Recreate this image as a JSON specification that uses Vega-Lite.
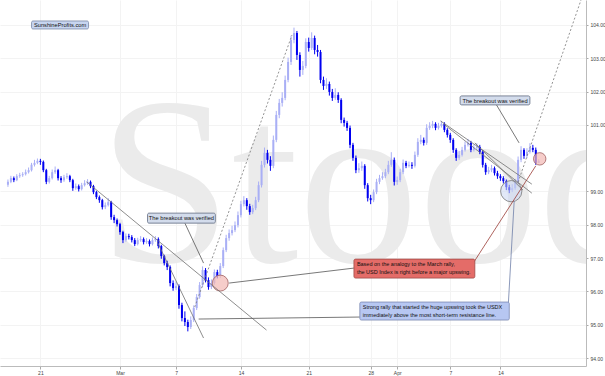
{
"$schema": "https://vega.github.io/schema/vega-lite/v6.json",
"width": 586, "height": 366,
"autosize": {"type": "none"},
"padding": {"left": 0, "top": 0, "right": 19, "bottom": 10},
"background": "white",
"config": {"view": {"stroke": null}, "font": "Liberation Sans"},
"datasets": {
"mark": [{"x": 30.67, "y": 96.88, "w": "Stooq"}],
"candles": [
{"t":0,"o":99.20,"h":99.36,"l":99.14,"c":99.29},
{"t":1,"o":99.29,"h":99.47,"l":99.25,"c":99.40},
{"t":2,"o":99.40,"h":99.45,"l":99.28,"c":99.34},
{"t":3,"o":99.34,"h":99.52,"l":99.31,"c":99.46},
{"t":4,"o":99.46,"h":99.56,"l":99.41,"c":99.49},
{"t":5,"o":99.49,"h":99.58,"l":99.44,"c":99.52},
{"t":6,"o":99.52,"h":99.66,"l":99.48,"c":99.58},
{"t":7,"o":99.58,"h":99.72,"l":99.54,"c":99.64},
{"t":8,"o":99.64,"h":99.86,"l":99.60,"c":99.80},
{"t":9,"o":99.80,"h":99.95,"l":99.75,"c":99.86},
{"t":10,"o":99.86,"h":99.99,"l":99.82,"c":99.92},
{"t":11,"o":99.92,"h":99.98,"l":99.80,"c":99.89},
{"t":12,"o":99.89,"h":99.93,"l":99.58,"c":99.64},
{"t":13,"o":99.64,"h":99.68,"l":99.22,"c":99.29},
{"t":14,"o":99.29,"h":99.47,"l":99.24,"c":99.40},
{"t":15,"o":99.40,"h":99.66,"l":99.36,"c":99.58},
{"t":16,"o":99.58,"h":99.75,"l":99.53,"c":99.64},
{"t":17,"o":99.64,"h":99.68,"l":99.33,"c":99.40},
{"t":18,"o":99.40,"h":99.46,"l":99.26,"c":99.34},
{"t":19,"o":99.34,"h":99.50,"l":99.29,"c":99.43},
{"t":20,"o":99.43,"h":99.55,"l":99.38,"c":99.46},
{"t":21,"o":99.46,"h":99.50,"l":99.28,"c":99.34},
{"t":22,"o":99.34,"h":99.38,"l":99.02,"c":99.10},
{"t":23,"o":99.10,"h":99.24,"l":99.05,"c":99.16},
{"t":24,"o":99.16,"h":99.21,"l":99.00,"c":99.07},
{"t":25,"o":99.07,"h":99.26,"l":99.03,"c":99.19},
{"t":26,"o":99.19,"h":99.34,"l":99.15,"c":99.25},
{"t":27,"o":99.25,"h":99.37,"l":99.20,"c":99.29},
{"t":28,"o":99.29,"h":99.33,"l":99.10,"c":99.16},
{"t":29,"o":99.16,"h":99.20,"l":98.92,"c":98.98},
{"t":30,"o":98.98,"h":99.02,"l":98.77,"c":98.83},
{"t":31,"o":98.83,"h":98.88,"l":98.66,"c":98.74},
{"t":32,"o":98.74,"h":98.78,"l":98.46,"c":98.53},
{"t":33,"o":98.53,"h":98.67,"l":98.47,"c":98.59},
{"t":34,"o":98.59,"h":98.80,"l":98.55,"c":98.68},
{"t":35,"o":98.68,"h":98.72,"l":98.15,"c":98.23},
{"t":36,"o":98.23,"h":98.30,"l":98.05,"c":98.14},
{"t":37,"o":98.14,"h":98.19,"l":97.95,"c":98.02},
{"t":38,"o":98.02,"h":98.06,"l":97.70,"c":97.78},
{"t":39,"o":97.78,"h":97.82,"l":97.45,"c":97.54},
{"t":40,"o":97.54,"h":97.74,"l":97.49,"c":97.66},
{"t":41,"o":97.66,"h":97.73,"l":97.56,"c":97.63},
{"t":42,"o":97.63,"h":97.69,"l":97.47,"c":97.54},
{"t":43,"o":97.54,"h":97.60,"l":97.36,"c":97.42},
{"t":44,"o":97.42,"h":97.61,"l":97.38,"c":97.54},
{"t":45,"o":97.54,"h":97.66,"l":97.49,"c":97.57},
{"t":46,"o":97.57,"h":97.62,"l":97.41,"c":97.48},
{"t":47,"o":97.48,"h":97.60,"l":97.43,"c":97.51},
{"t":48,"o":97.51,"h":97.56,"l":97.35,"c":97.42},
{"t":49,"o":97.42,"h":97.62,"l":97.38,"c":97.54},
{"t":50,"o":97.54,"h":97.66,"l":97.49,"c":97.57},
{"t":51,"o":97.57,"h":97.62,"l":97.29,"c":97.36},
{"t":52,"o":97.36,"h":97.40,"l":96.98,"c":97.06},
{"t":53,"o":97.06,"h":97.10,"l":96.78,"c":96.85},
{"t":54,"o":96.85,"h":96.92,"l":96.64,"c":96.73},
{"t":55,"o":96.73,"h":96.78,"l":96.15,"c":96.25},
{"t":56,"o":96.25,"h":96.33,"l":96.02,"c":96.10},
{"t":57,"o":96.10,"h":96.30,"l":96.04,"c":96.16},
{"t":58,"o":96.16,"h":96.21,"l":95.48,"c":95.59},
{"t":59,"o":95.59,"h":95.66,"l":95.10,"c":95.20},
{"t":60,"o":95.20,"h":95.40,"l":94.96,"c":95.08},
{"t":61,"o":95.08,"h":95.15,"l":94.80,"c":94.93},
{"t":62,"o":94.93,"h":95.25,"l":94.87,"c":95.14},
{"t":63,"o":95.14,"h":95.58,"l":95.08,"c":95.50},
{"t":64,"o":95.50,"h":95.92,"l":95.44,"c":95.83},
{"t":65,"o":95.83,"h":96.28,"l":95.78,"c":96.19},
{"t":66,"o":96.19,"h":96.75,"l":96.12,"c":96.64},
{"t":67,"o":96.64,"h":96.70,"l":96.27,"c":96.34},
{"t":68,"o":96.34,"h":96.42,"l":96.05,"c":96.13},
{"t":69,"o":96.13,"h":96.36,"l":96.07,"c":96.25},
{"t":70,"o":96.25,"h":96.66,"l":96.20,"c":96.58},
{"t":71,"o":96.58,"h":96.65,"l":96.39,"c":96.46},
{"t":72,"o":96.46,"h":96.85,"l":96.40,"c":96.76},
{"t":73,"o":96.76,"h":97.32,"l":96.70,"c":97.24},
{"t":74,"o":97.24,"h":97.70,"l":97.18,"c":97.60},
{"t":75,"o":97.60,"h":97.86,"l":97.52,"c":97.75},
{"t":76,"o":97.75,"h":97.97,"l":97.68,"c":97.84},
{"t":77,"o":97.84,"h":98.10,"l":97.78,"c":97.99},
{"t":78,"o":97.99,"h":98.40,"l":97.92,"c":98.29},
{"t":79,"o":98.29,"h":98.72,"l":98.22,"c":98.62},
{"t":80,"o":98.62,"h":98.86,"l":98.55,"c":98.74},
{"t":81,"o":98.74,"h":98.80,"l":98.45,"c":98.56},
{"t":82,"o":98.56,"h":98.63,"l":98.30,"c":98.38},
{"t":83,"o":98.38,"h":98.60,"l":98.32,"c":98.50},
{"t":84,"o":98.50,"h":98.84,"l":98.44,"c":98.74},
{"t":85,"o":98.74,"h":99.30,"l":98.68,"c":99.19},
{"t":86,"o":99.19,"h":99.92,"l":99.12,"c":99.80},
{"t":87,"o":99.80,"h":100.32,"l":99.72,"c":100.16},
{"t":88,"o":100.16,"h":100.25,"l":99.84,"c":99.95},
{"t":89,"o":99.95,"h":100.06,"l":99.62,"c":99.77},
{"t":90,"o":99.77,"h":100.68,"l":99.70,"c":100.55},
{"t":91,"o":100.55,"h":101.42,"l":100.48,"c":101.30},
{"t":92,"o":101.30,"h":101.78,"l":101.20,"c":101.66},
{"t":93,"o":101.66,"h":101.98,"l":101.55,"c":101.81},
{"t":94,"o":101.81,"h":102.48,"l":101.74,"c":102.35},
{"t":95,"o":102.35,"h":103.02,"l":102.28,"c":102.89},
{"t":96,"o":102.89,"h":103.68,"l":102.80,"c":103.55},
{"t":97,"o":103.55,"h":103.92,"l":103.45,"c":103.76},
{"t":98,"o":103.76,"h":103.82,"l":102.95,"c":103.10},
{"t":99,"o":103.10,"h":103.18,"l":102.45,"c":102.65},
{"t":100,"o":102.65,"h":102.92,"l":102.50,"c":102.77},
{"t":101,"o":102.77,"h":103.60,"l":102.70,"c":103.49},
{"t":102,"o":103.49,"h":103.62,"l":103.20,"c":103.31},
{"t":103,"o":103.31,"h":103.78,"l":103.25,"c":103.61},
{"t":104,"o":103.61,"h":103.68,"l":103.12,"c":103.25},
{"t":105,"o":103.25,"h":103.40,"l":103.05,"c":103.19},
{"t":106,"o":103.19,"h":103.25,"l":102.25,"c":102.35},
{"t":107,"o":102.35,"h":102.45,"l":102.05,"c":102.17},
{"t":108,"o":102.17,"h":102.40,"l":102.08,"c":102.23},
{"t":109,"o":102.23,"h":102.30,"l":101.88,"c":101.99},
{"t":110,"o":101.99,"h":102.08,"l":101.72,"c":101.81},
{"t":111,"o":101.81,"h":102.10,"l":101.75,"c":101.90},
{"t":112,"o":101.90,"h":101.98,"l":101.66,"c":101.75},
{"t":113,"o":101.75,"h":101.80,"l":101.05,"c":101.15},
{"t":114,"o":101.15,"h":101.22,"l":100.95,"c":101.06},
{"t":115,"o":101.06,"h":101.12,"l":100.82,"c":100.91},
{"t":116,"o":100.91,"h":100.98,"l":100.30,"c":100.40},
{"t":117,"o":100.40,"h":100.46,"l":99.92,"c":100.01},
{"t":118,"o":100.01,"h":100.08,"l":99.55,"c":99.64},
{"t":119,"o":99.64,"h":99.85,"l":99.56,"c":99.70},
{"t":120,"o":99.70,"h":99.90,"l":99.62,"c":99.77},
{"t":121,"o":99.77,"h":99.82,"l":99.08,"c":99.19},
{"t":122,"o":99.19,"h":99.25,"l":98.70,"c":98.80},
{"t":123,"o":98.80,"h":98.90,"l":98.62,"c":98.74},
{"t":124,"o":98.74,"h":99.06,"l":98.68,"c":98.98},
{"t":125,"o":98.98,"h":99.38,"l":98.92,"c":99.29},
{"t":126,"o":99.29,"h":99.50,"l":99.22,"c":99.40},
{"t":127,"o":99.40,"h":99.58,"l":99.35,"c":99.46},
{"t":128,"o":99.46,"h":99.68,"l":99.40,"c":99.58},
{"t":129,"o":99.58,"h":99.92,"l":99.52,"c":99.80},
{"t":130,"o":99.80,"h":100.18,"l":99.74,"c":99.95},
{"t":131,"o":99.95,"h":100.02,"l":99.18,"c":99.29},
{"t":132,"o":99.29,"h":99.45,"l":99.20,"c":99.34},
{"t":133,"o":99.34,"h":99.68,"l":99.28,"c":99.58},
{"t":134,"o":99.58,"h":99.96,"l":99.52,"c":99.86},
{"t":135,"o":99.86,"h":99.92,"l":99.70,"c":99.77},
{"t":136,"o":99.77,"h":99.90,"l":99.72,"c":99.80},
{"t":137,"o":99.80,"h":99.88,"l":99.68,"c":99.77},
{"t":138,"o":99.77,"h":100.20,"l":99.72,"c":100.10},
{"t":139,"o":100.10,"h":100.60,"l":100.04,"c":100.49},
{"t":140,"o":100.49,"h":100.70,"l":100.42,"c":100.55},
{"t":141,"o":100.55,"h":100.62,"l":100.38,"c":100.46},
{"t":142,"o":100.46,"h":101.02,"l":100.40,"c":100.91},
{"t":143,"o":100.91,"h":101.08,"l":100.85,"c":100.97},
{"t":144,"o":100.97,"h":101.12,"l":100.90,"c":101.03},
{"t":145,"o":101.03,"h":101.08,"l":100.84,"c":100.91},
{"t":146,"o":100.91,"h":101.06,"l":100.86,"c":100.97},
{"t":147,"o":100.97,"h":101.12,"l":100.92,"c":101.03},
{"t":148,"o":101.03,"h":101.08,"l":100.78,"c":100.85},
{"t":149,"o":100.85,"h":100.90,"l":100.62,"c":100.70},
{"t":150,"o":100.70,"h":100.76,"l":100.46,"c":100.55},
{"t":151,"o":100.55,"h":100.60,"l":100.16,"c":100.25},
{"t":152,"o":100.25,"h":100.30,"l":99.92,"c":100.01},
{"t":153,"o":100.01,"h":100.22,"l":99.95,"c":100.10},
{"t":154,"o":100.10,"h":100.34,"l":100.05,"c":100.25},
{"t":155,"o":100.25,"h":100.50,"l":100.20,"c":100.40},
{"t":156,"o":100.40,"h":100.58,"l":100.35,"c":100.46},
{"t":157,"o":100.46,"h":100.52,"l":100.18,"c":100.25},
{"t":158,"o":100.25,"h":100.42,"l":100.20,"c":100.31},
{"t":159,"o":100.31,"h":100.45,"l":100.25,"c":100.34},
{"t":160,"o":100.34,"h":100.40,"l":100.12,"c":100.19},
{"t":161,"o":100.19,"h":100.24,"l":99.72,"c":99.80},
{"t":162,"o":99.80,"h":99.86,"l":99.50,"c":99.58},
{"t":163,"o":99.58,"h":99.74,"l":99.52,"c":99.64},
{"t":164,"o":99.64,"h":99.80,"l":99.58,"c":99.70},
{"t":165,"o":99.70,"h":99.75,"l":99.48,"c":99.55},
{"t":166,"o":99.55,"h":99.62,"l":99.38,"c":99.46},
{"t":167,"o":99.46,"h":99.52,"l":99.32,"c":99.40},
{"t":168,"o":99.40,"h":99.46,"l":99.24,"c":99.31},
{"t":169,"o":99.31,"h":99.36,"l":99.04,"c":99.13},
{"t":170,"o":99.13,"h":99.20,"l":98.95,"c":99.04},
{"t":171,"o":99.04,"h":99.22,"l":98.98,"c":99.10},
{"t":172,"o":99.10,"h":99.38,"l":99.05,"c":99.29},
{"t":173,"o":99.29,"h":100.05,"l":99.24,"c":99.95},
{"t":174,"o":99.95,"h":100.36,"l":99.88,"c":100.25},
{"t":175,"o":100.25,"h":100.30,"l":99.98,"c":100.07},
{"t":176,"o":100.07,"h":100.30,"l":100.00,"c":100.19},
{"t":177,"o":100.19,"h":100.45,"l":100.14,"c":100.31},
{"t":178,"o":100.31,"h":100.40,"l":100.18,"c":100.25},
{"t":179,"o":100.25,"h":100.32,"l":99.80,"c":99.86},
{"t":180,"o":99.862,"h":99.969,"l":99.862,"c":99.908}
],
"lines": [
{"x":26.67,"y":99.29,"x2":87.67,"y2":94.84,"kind":"trend"},
{"x":50.67,"y":97.48,"x2":66.33,"y2":94.60,"kind":"trend"},
{"x":146.67,"y":101.12,"x2":177.67,"y2":99.22,"kind":"trend"},
{"x":147.67,"y":101.03,"x2":177.67,"y2":98.95,"kind":"trend"},
{"x":158.33,"y":100.46,"x2":174.67,"y2":99.04,"kind":"trend"},
{"x":60,"y":98.05,"x2":66.33,"y2":96.85,"kind":"pointer"},
{"x":165.67,"y":101.60,"x2":173.33,"y2":100.46,"kind":"pointer"},
{"x":75,"y":96.25,"x2":117.33,"y2":96.70,"kind":"pointer"},
{"x":64.67,"y":95.17,"x2":119.33,"y2":95.23,"kind":"pointer"},
{"x":169.67,"y":95.59,"x2":171.67,"y2":98.71,"kind":"blueptr"},
{"x":158,"y":96.88,"x2":179,"y2":99.77,"kind":"redptr"}
],
"dotted": [
{"x":63.33,"y":95.53,"x2":96.33,"y2":103.70},
{"x":173,"y":99.28,"x2":194.33,"y2":104.75}
],
"boxes": [
{"x":8,"x2":27.33,"y":104.12,"y2":103.88,"kind":"site"},
{"x":47.33,"x2":70.33,"y":98.35,"y2":98.05,"kind":"note"},
{"x":153.33,"x2":177,"y":101.87,"y2":101.60,"kind":"note"},
{"x":117.33,"x2":158.33,"y":96.97,"y2":96.40,"kind":"red"},
{"x":119.33,"x2":170,"y":95.68,"y2":95.14,"kind":"blue"}
],
"ctext": [
{"x":17.67,"y":104.0,"txt":"SunshineProfits.com"},
{"x":58.83,"y":98.2,"txt":"The breakout was verified"},
{"x":165.17,"y":101.73,"txt":"The breakout was verified"}
],
"ltext": [
{"x":118.33,"y":96.82,"txt":"Based on the analogy to the March rally,"},
{"x":118.33,"y":96.58,"txt":"the USD Index is right before a major upswing."},
{"x":120.33,"y":95.53,"txt":"Strong rally that started the huge upswing took the USDX"},
{"x":120.33,"y":95.29,"txt":"immediately above the most short-term resistance line."}
],
"bluecirc": [{"x":170.67,"y":99.01}],
"pinkcirc": [{"x":72,"y":96.25,"r":"big"},{"x":180.33,"y":99.98,"r":"small"}]
},
"layer": [
{
"data": {"name": "mark"},
"mark": {"type": "text", "font": "Liberation Serif", "fontSize": 240, "fill": "#ebebeb", "align": "left", "baseline": "alphabetic", "clip": true},
"encoding": {"x": {"field": "x", "type": "quantitative"}, "y": {"field": "y", "type": "quantitative"}, "text": {"field": "w"}}
},
{
"data": {"name": "candles"},
"mark": {"type": "rule", "strokeWidth": 1},
"encoding": {
"x": {"field": "t", "type": "quantitative", "scale": {"domain": [-1, 194.33], "nice": false, "zero": false},
"axis": {"title": null, "orient": "bottom", "values": [11, 38, 57, 79, 102, 123, 132, 150, 167],
"labelExpr": "datum.value==11?'21':datum.value==38?'Mar':datum.value==57?'7':datum.value==79?'14':datum.value==102?'21':datum.value==123?'28':datum.value==132?'Apr':datum.value==150?'7':'14'",
"labelFontSize": 5, "labelColor": "#444", "labelPadding": 1, "tickSize": 3, "tickColor": "#aaa", "domainColor": "#bbb", "grid": true, "gridColor": "#f3f3f3"}},
"y": {"field": "l", "type": "quantitative", "scale": {"domain": [93.76, 104.75], "nice": false, "zero": false},
"axis": {"title": null, "orient": "right", "values": [94, 95, 96, 97, 98, 99, 101, 102, 103, 104], "format": ".2f",
"labelFontSize": 5, "labelColor": "#444", "labelPadding": 2, "tickSize": 2, "tickColor": "#aaa", "domainColor": "#bbb", "grid": true, "gridColor": "#f3f3f3"}},
"y2": {"field": "h"},
"color": {"condition": {"test": "datum.c < datum.o", "value": "#0000f0"}, "value": "#a9aff5"}
}
},
{
"data": {"name": "candles"},
"mark": {"type": "bar", "width": 2},
"encoding": {
"x": {"field": "t", "type": "quantitative"},
"y": {"field": "o", "type": "quantitative"},
"y2": {"field": "c"},
"color": {"condition": {"test": "datum.c < datum.o", "value": "#0000f0"}, "value": "#a9aff5"}
}
},
{
"mark": {"type": "point", "shape": "M0,-1A0.714,1 0 1,1 0,1A0.714,1 0 1,1 0,-1Z", "size": 1764, "filled": true, "fill": "#c9d6f2", "fillOpacity": 0.55, "stroke": "#777", "strokeWidth": 0.8},
"encoding": {"x": {"datum": 59.67, "type": "quantitative"}, "y": {"datum": 95.2, "type": "quantitative"}}
},
{
"data": {"name": "bluecirc"},
"mark": {"type": "point", "shape": "circle", "size": 452, "filled": true, "fill": "#c9d6f2", "fillOpacity": 0.55, "stroke": "#777", "strokeWidth": 0.8},
"encoding": {"x": {"field": "x", "type": "quantitative"}, "y": {"field": "y", "type": "quantitative"}}
},
{
"data": {"name": "pinkcirc"},
"mark": {"type": "point", "shape": "circle", "filled": true, "fill": "#f2b8b4", "fillOpacity": 0.7, "stroke": "#a06060", "strokeWidth": 0.8},
"encoding": {"x": {"field": "x", "type": "quantitative"}, "y": {"field": "y", "type": "quantitative"},
"size": {"field": "r", "type": "nominal", "scale": {"domain": ["big", "small"], "range": [254, 154]}, "legend": null}}
},
{
"data": {"name": "lines"},
"mark": {"type": "rule", "strokeWidth": 0.8},
"encoding": {"x": {"field": "x", "type": "quantitative"}, "y": {"field": "y", "type": "quantitative"}, "x2": {"field": "x2"}, "y2": {"field": "y2"},
"color": {"field": "kind", "type": "nominal", "scale": {"domain": ["trend", "pointer", "blueptr", "redptr"], "range": ["#707070", "#555555", "#6f7fa8", "#9a3c36"]}, "legend": null}}
},
{
"data": {"name": "dotted"},
"mark": {"type": "rule", "strokeWidth": 0.8, "strokeDash": [2, 2], "color": "#777"},
"encoding": {"x": {"field": "x", "type": "quantitative"}, "y": {"field": "y", "type": "quantitative"}, "x2": {"field": "x2"}, "y2": {"field": "y2"}}
},
{
"data": {"name": "boxes"},
"mark": {"type": "rect", "cornerRadius": 1.5, "strokeWidth": 0.8},
"encoding": {"x": {"field": "x", "type": "quantitative"}, "y": {"field": "y", "type": "quantitative"}, "x2": {"field": "x2"}, "y2": {"field": "y2"},
"fill": {"field": "kind", "type": "nominal", "scale": {"domain": ["site", "note", "red", "blue"], "range": ["#c7d5f0", "#d3dcec", "#e46c68", "#b7c7f2"]}, "legend": null},
"stroke": {"field": "kind", "type": "nominal", "scale": {"domain": ["site", "note", "red", "blue"], "range": ["#7a88a6", "#5f6b80", "#a04a46", "#7a88b0"]}, "legend": null}}
},
{
"data": {"name": "ctext"},
"mark": {"type": "text", "fontSize": 5.7, "color": "#111", "align": "center", "baseline": "middle"},
"encoding": {"x": {"field": "x", "type": "quantitative"}, "y": {"field": "y", "type": "quantitative"}, "text": {"field": "txt"}}
},
{
"data": {"name": "ltext"},
"mark": {"type": "text", "fontSize": 5.5, "color": "#111", "align": "left", "baseline": "middle"},
"encoding": {"x": {"field": "x", "type": "quantitative"}, "y": {"field": "y", "type": "quantitative"}, "text": {"field": "txt"}}
},
{
"mark": {"type": "rect", "color": "#111"},
"encoding": {"x": {"datum": 194.33, "type": "quantitative"}, "x2": {"datum": 199.8}, "y": {"datum": 100.19, "type": "quantitative"}, "y2": {"datum": 99.95}}
},
{
"mark": {"type": "text", "fontSize": 5, "color": "white", "align": "center", "baseline": "middle"},
"encoding": {"x": {"datum": 197.1, "type": "quantitative"}, "y": {"datum": 100.07, "type": "quantitative"}, "text": {"value": "99.908"}}
},
{
"mark": {"type": "text", "fontSize": 4.5, "color": "#333", "align": "left", "baseline": "middle"},
"encoding": {"x": {"datum": 0, "type": "quantitative"}, "y": {"datum": 104.64, "type": "quantitative"}, "text": {"value": "DX.F H4 O:99.862 H:99.969 L:99.862 C:99.908 (-0.16%)"}}
}
]
}
